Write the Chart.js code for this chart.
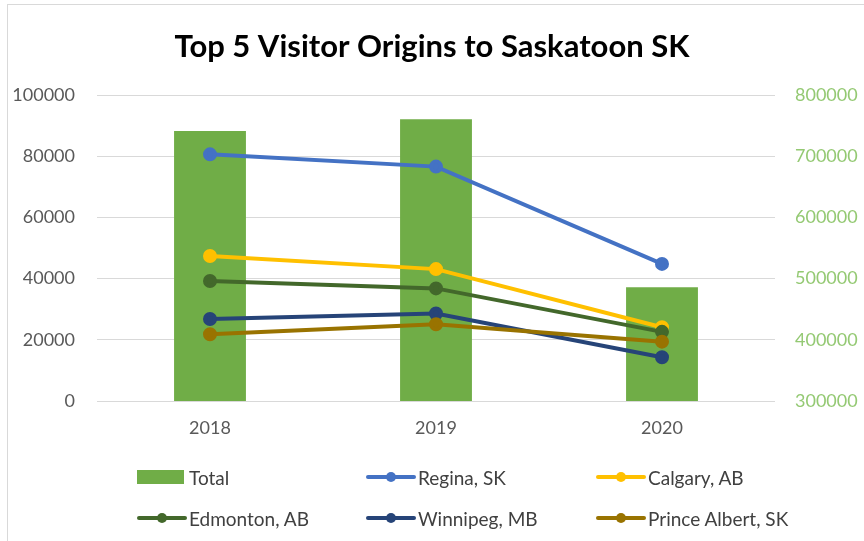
<!DOCTYPE html>
<html>
<head>
<meta charset="utf-8">
<script src="https://cdn.jsdelivr.net/npm/chart.js@4/dist/chart.umd.min.js"></script>
<style>
  html, body { margin: 0; padding: 0; background: #fff; }
  #wrap { position: relative; width: 864px; height: 541px; overflow: hidden; font-family: Lato, "Open Sans", sans-serif; }
  #c { position: absolute; left: 0; top: 0; }
  .bl { position: absolute; left: 7px; top: 4px; width: 1px; height: 537px; background: #d9d9d9; }
  .bt { position: absolute; left: 7px; top: 4px; width: 857px; height: 1px; background: #d9d9d9; }
  .lg { position: absolute; height: 24px; display: flex; align-items: center; font-size: 19px; color: #404040; white-space: nowrap; }
  .sw { position: relative; width: 50px; height: 24px; margin-right: 2px; }
  .sw .ln { position: absolute; left: 0; right: 0; top: 10px; height: 4px; border-radius: 2px; }
  .sw .dt { position: absolute; left: 20px; top: 7px; width: 10px; height: 10px; border-radius: 50%; }
  .sw .bx { position: absolute; left: 0; top: 5px; width: 47px; height: 14px; }
</style>
</head>
<body>
<div id="wrap">
  <canvas id="c" width="864" height="541"></canvas>
  <div class="bl"></div><div class="bt"></div>
  <div id="legend"></div>
</div>
<script>
const categories = ["2018", "2019", "2020"];
const totalValues = [741200, 760300, 485800];
const reginaValues = [80600, 76600, 44800];
const calgaryValues = [47400, 43100, 24100];
const edmontonValues = [39200, 36800, 22600];
const winnipegValues = [26800, 28600, 14300];
const princeAlbertValues = [21800, 25100, 19400];
const seriesNames = ["Total", "Regina, SK", "Calgary, AB", "Edmonton, AB", "Winnipeg, MB", "Prince Albert, SK"];
const seriesColors = ["#70AD47", "#4472C4", "#FFC000", "#43682B", "#264478", "#997300"];

const FONT = "Lato, 'Open Sans', sans-serif";

function lineDs(i, data, order) {
  return {
    type: "line", label: seriesNames[i], data: data, yAxisID: "y",
    borderColor: seriesColors[i], backgroundColor: seriesColors[i],
    borderWidth: 4, pointRadius: 5, pointHoverRadius: 5,
    pointBackgroundColor: seriesColors[i], pointBorderColor: seriesColors[i],
    tension: 0, order: order, fill: false
  };
}

const plainNumber = v => String(v);

const chart = new Chart(document.getElementById("c"), {
  data: {
    labels: categories,
    datasets: [
      { type: "bar", label: seriesNames[0], data: totalValues, yAxisID: "y1",
        backgroundColor: seriesColors[0], borderWidth: 0, order: 10,
        categoryPercentage: 1, barPercentage: 0.318 },
      lineDs(1, reginaValues, 6),
      lineDs(2, calgaryValues, 5),
      lineDs(3, edmontonValues, 4),
      lineDs(4, winnipegValues, 3),
      lineDs(5, princeAlbertValues, 2)
    ]
  },
  options: {
    responsive: false, animation: false, devicePixelRatio: 1,
    layout: { padding: { left: 0, right: 0, top: 0, bottom: 0 } },
    plugins: {
      legend: { display: false },
      tooltip: { enabled: false },
      title: {
        display: true, text: "Top 5 Visitor Origins to Saskatoon SK",
        color: "#000000", font: { family: FONT, size: 31, weight: "bold", lineHeight: 1.2 },
        padding: { top: 28, bottom: 29.8 }
      }
    },
    scales: {
      x: {
        type: "category", offset: true,
        grid: { display: false, drawTicks: false }, border: { display: false },
        ticks: { color: "#595959", font: { family: FONT, size: 18 }, padding: 16 },
        afterFit: s => { s.height = 140; }
      },
      y: {
        type: "linear", position: "left", min: 0, max: 100000,
        ticks: { stepSize: 20000, color: "#595959", font: { family: FONT, size: 18 }, padding: 22, callback: plainNumber },
        grid: { color: "#d9d9d9", lineWidth: 1, drawTicks: false }, border: { display: false },
        afterFit: s => { s.width = 97; }
      },
      y1: {
        type: "linear", position: "right", min: 300000, max: 800000,
        ticks: { stepSize: 100000, color: "#94c973", font: { family: FONT, size: 18 }, padding: 20, callback: plainNumber },
        grid: { display: false, drawTicks: false }, border: { display: false },
        afterFit: s => { s.width = 89; }
      }
    }
  }
});

// HTML legend (three columns, two rows)
const legendPos = [
  { x: 137, y: 477 }, { x: 366, y: 477 }, { x: 596, y: 477 },
  { x: 137, y: 518 }, { x: 366, y: 518 }, { x: 596, y: 518 }
];
const lgRoot = document.getElementById("legend");
seriesNames.forEach((name, i) => {
  const item = document.createElement("div");
  item.className = "lg";
  item.style.left = legendPos[i].x + "px";
  item.style.top = (legendPos[i].y - 12) + "px";
  const sw = document.createElement("div");
  sw.className = "sw";
  if (i === 0) {
    sw.innerHTML = '<div class="bx" style="background:' + seriesColors[i] + '"></div>';
  } else {
    sw.innerHTML = '<div class="ln" style="background:' + seriesColors[i] + '"></div><div class="dt" style="background:' + seriesColors[i] + '"></div>';
  }
  const tx = document.createElement("span");
  tx.textContent = name;
  item.appendChild(sw);
  item.appendChild(tx);
  lgRoot.appendChild(item);
});
</script>
</body>
</html>
